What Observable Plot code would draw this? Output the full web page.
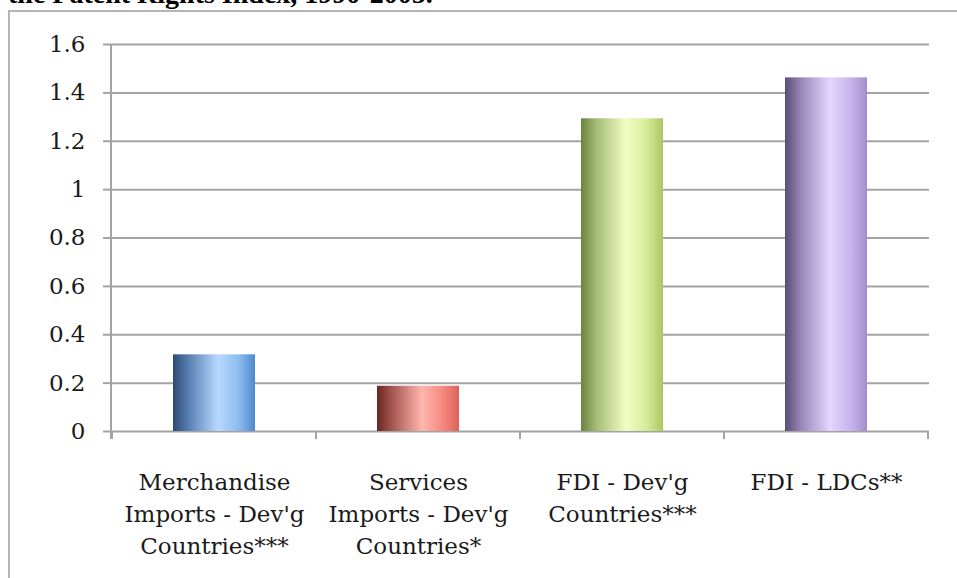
<!DOCTYPE html>
<html><head><meta charset="utf-8">
<script src="https://cdn.jsdelivr.net/npm/d3@7"></script>
<script src="https://cdn.jsdelivr.net/npm/@observablehq/plot@0.6"></script>
<style>
html,body{margin:0;padding:0;background:#fff;overflow:hidden;width:957px;height:578px;}
#wrap{position:relative;width:957px;height:578px;overflow:hidden;}
#title{position:absolute;left:8px;top:-20px;font:bold 28px "Liberation Serif",serif;line-height:28px;white-space:nowrap;color:#000;}
#box{position:absolute;left:8px;top:10px;width:1000px;height:700px;border:2px solid #b5b5b5;box-sizing:border-box;}
#chart{position:absolute;left:0;top:0;}
</style></head>
<body>
<div id="wrap">
  <div id="title">the Patent Rights Index, 1990-2005.</div>
  <div id="box"></div>
  <div id="chart"></div>
</div>
<script>
const categories = ["Merchandise\nImports - Dev'g\nCountries***", "Services\nImports - Dev'g\nCountries*", "FDI - Dev'g\nCountries***", "FDI - LDCs**"];
const values = [0.317, 0.187, 1.293, 1.462];
const yTicks = [0, 0.2, 0.4, 0.6, 0.8, 1, 1.2, 1.4, 1.6];
const yTickLabels = ["0", "0.2", "0.4", "0.6", "0.8", "1", "1.2", "1.4", "1.6"];

// gradient styles (left dark -> light highlight -> medium right)
const palettes = [
  ["#2c4a74", "#5a82b4", "#b9d9ff", "#8cbcef", "#4e8acf"],
  ["#6a2620", "#a85a55", "#ffb6ae", "#f58a80", "#dc6258"],
  ["#6a8440", "#a8bf78", "#f2fdc4", "#d6ec98", "#a8c862"],
  ["#5c4c78", "#9a88b8", "#e3d6ff", "#c8b4ec", "#a48ccc"]
];

const rows = categories.map((c, i) => ({cat: c, value: values[i]}));
const gridColor = "#a3a3a3";

const plot = Plot.plot({
  width: 957, height: 578,
  marginTop: 44, marginBottom: 147, marginLeft: 111, marginRight: 28,
  style: {fontFamily: "DejaVu Serif", fontSize: "23px", color: "#1a1a1a", background: "transparent", overflow: "visible"},
  x: {domain: categories, paddingInner: 0.6, paddingOuter: 0.3},
  y: {domain: [0, 1.6]},
  marks: [
    Plot.ruleY(yTicks, {stroke: gridColor, strokeWidth: 2}),
    ...rows.map((r, i) => Plot.barY([r], {x: "cat", y: "value", fill: `url(#bargrad${i})`})),
    Plot.axisY(yTicks, {tickSize: 8, tickPadding: 18, tickFormat: d => yTickLabels[yTicks.indexOf(d)], stroke: gridColor, strokeWidth: 2, fill: "#1a1a1a", fontSize: 23, label: null}),
    Plot.axisX({tickSize: 0, tickPadding: 36, lineHeight: 1.39, fill: "#1a1a1a", fontSize: 23, label: null})
  ]
});

const svg = d3.select(plot);
const defs = svg.insert("defs", ":first-child");
palettes.forEach((p, i) => {
  const g = defs.append("linearGradient").attr("id", `bargrad${i}`).attr("x1", 0).attr("x2", 1).attr("y1", 0).attr("y2", 0);
  const offs = [0, 0.2, 0.55, 0.8, 1];
  p.forEach((c, j) => g.append("stop").attr("offset", offs[j]).attr("stop-color", c));
});

const xs = plot.scale("x"), ys = plot.scale("y");
const y0 = ys.apply(0), yTop = ys.apply(1.6);
const x0 = xs.range[0];
svg.append("line").attr("x1", x0).attr("x2", x0).attr("y1", yTop).attr("y2", y0 + 8)
  .attr("stroke", gridColor).attr("stroke-width", 2);
const half = (xs.step - xs.bandwidth) / 2;
const edges = categories.map(c => xs.apply(c) - half).concat([xs.apply(categories[categories.length - 1]) + xs.bandwidth + half]);
svg.append("g").selectAll("line").data(edges).join("line")
  .attr("x1", d => d).attr("x2", d => d).attr("y1", y0).attr("y2", y0 + 8)
  .attr("stroke", gridColor).attr("stroke-width", 2);

document.getElementById("chart").appendChild(plot);
</script>
</body></html>
